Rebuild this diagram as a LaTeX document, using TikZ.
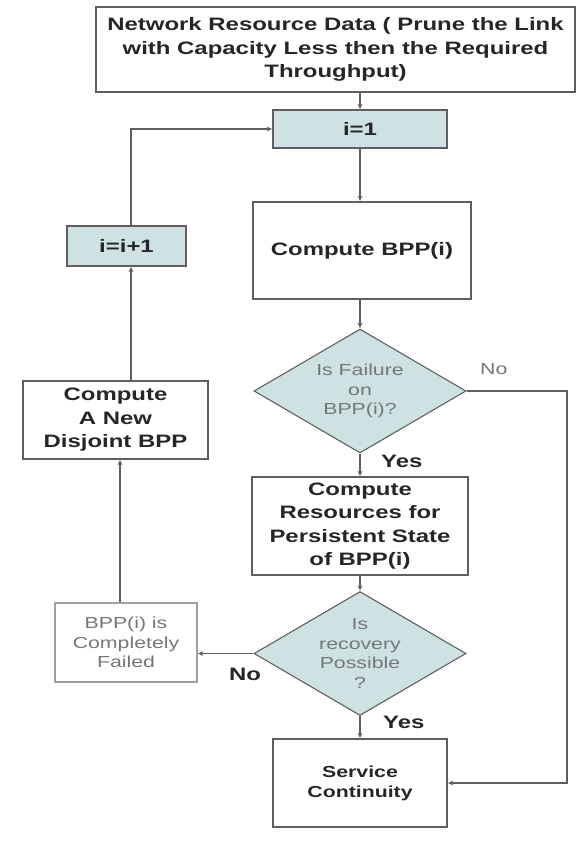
\documentclass[tikz,border=0pt]{standalone}
\usepackage{fontspec}
\setmainfont{Liberation Sans}[FakeStretch=1.33]
\usetikzlibrary{shapes.geometric, arrows.meta}

\definecolor{boxfill}{RGB}{206,226,227}
\definecolor{linegray}{RGB}{95,95,95}
\definecolor{textgray}{RGB}{118,118,118}

\begin{document}
\begin{tikzpicture}[x=1pt, y=-1pt,
  box/.style={draw=linegray, line width=1.2pt, align=center, inner sep=2pt,
    text=black!85, font=\fontsize{18}{23.5}\selectfont\bfseries},
  counter/.style={box, fill=boxfill},
  dead/.style={box, draw=gray!75, text=textgray, font=\fontsize{16}{19.5}\selectfont},
  test/.style={diamond, draw=linegray, line width=1.1pt, fill=boxfill, aspect=1.7,
    inner sep=0pt, minimum width=212pt, minimum height=124pt, align=center,
    text=textgray, font=\fontsize{16}{19.5}\selectfont},
  answer/.style={anchor=base west, inner sep=0pt, text=black!85,
    font=\fontsize{18}{20}\selectfont\bfseries},
  flow/.style={draw=linegray, line width=1.1pt, -{Latex[length=5pt, width=5pt]}}
]

\useasboundingbox ( 0, 0 ) rectangle ( 578, 845 );

% Main column
\node [box, minimum width=479pt, minimum height=85pt] (data) at ( 335.5, 49.5 )
  {Network Resource Data ( Prune the Link\\with Capacity Less then the Required\\Throughput)};
\node [counter, minimum width=174pt, minimum height=38pt] (init) at ( 360, 129 ) {i=1};
\node [box, minimum width=218pt, minimum height=97pt] (bpp) at ( 362, 250.5 ) {Compute BPP(i)};
\node [test] (fail) at ( 360, 391 ) {Is Failure\\on\\BPP(i)?};
\node [box, minimum width=216pt, minimum height=98pt] (res) at ( 360, 526 )
  {Compute\\Resources for\\Persistent State\\of BPP(i)};
\node [test] (rec) at ( 360, 653.5 ) {Is\\recovery\\Possible\\?};
\node [box, font=\fontsize{16}{20}\selectfont\bfseries, minimum width=174pt, minimum height=88pt]
  (cont) at ( 360, 783 ) {Service\\Continuity};

% Left column
\node [dead, minimum width=142pt, minimum height=79pt] (failed) at ( 126, 642.5 )
  {BPP(i) is\\Completely\\Failed};
\node [box, minimum width=185pt, minimum height=78pt] (newbpp) at ( 115.5, 420 )
  {Compute\\A New\\Disjoint BPP};
\node [counter, minimum width=119pt, minimum height=40pt] (inc) at ( 126.5, 246 ) {i=i+1};

% Answers
\node [answer, text=textgray, font=\fontsize{16}{19}\selectfont] (nofail) at ( 480, 374 ) {No};
\node [answer] (yesfail) at ( 381, 467 ) {Yes};
\node [answer] (norec) at ( 229, 680 ) {No};
\node [answer] (yesrec) at ( 383, 728 ) {Yes};

% Connectors
\coordinate (rside) at ( 567, 391 );
\coordinate (upx) at ( 131, 0 );
\coordinate (lowx) at ( 120, 0 );

\draw [flow] (data.south -| init.north) -- (init.north);
\draw [flow] (init.south) -- (init.south |- bpp.north);
\draw [flow] (bpp.south -| fail.north) -- (fail.north);
\draw [flow] (fail.south) -- (res.north);
\draw [flow] (res.south) -- (rec.north);
\draw [flow] (rec.south) -- (cont.north);
\draw [flow] (rec.west) -- (rec.west -| failed.east);
\draw [flow] (fail.east) -- (rside) |- (cont.east);

% Back to the counter
\draw [flow] (failed.north -| lowx) -- (newbpp.south -| lowx);
\draw [flow] (newbpp.north -| upx) -- (inc.south -| upx);
\draw [flow] (inc.north -| upx) |- (init.west);

\end{tikzpicture}
\end{document}
